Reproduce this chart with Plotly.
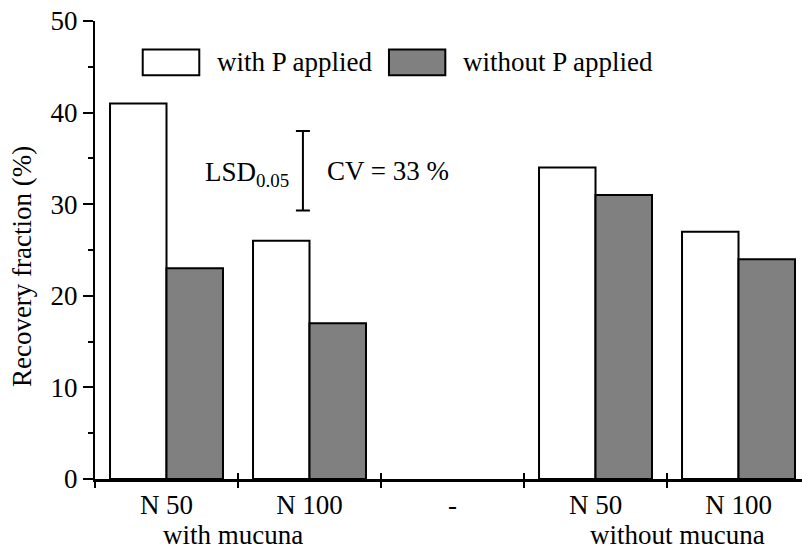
import plotly.graph_objects as go

# ---- data ----
categories = ["N 50", "N 100", "-", "N 50", "N 100"]
groups = ["with mucuna", "without mucuna"]
with_p = [41, 26, None, 34, 27]
without_p = [23, 17, None, 31, 24]
series_names = ["with P applied", "without P applied"]
lsd_low, lsd_high = 29.3, 38.0
lsd_label = "LSD<sub>0.05</sub>"
cv_label = "CV = 33 %"
y_ticks = [0, 10, 20, 30, 40, 50]

FONT = "Times New Roman, Times, DejaVu Serif, serif"
FS = 27
GRAY = "#808080"

xs = list(range(len(categories)))
boundaries = [i - 0.5 for i in range(len(categories) + 1)]

fig = go.Figure()
fig.add_trace(go.Bar(x=xs, y=with_p, name=series_names[0],
                     marker=dict(color="white", line=dict(color="black", width=2)),
                     showlegend=False))
fig.add_trace(go.Bar(x=xs, y=without_p, name=series_names[1],
                     marker=dict(color=GRAY, line=dict(color="black", width=2)),
                     showlegend=False))

# LSD bar
lsd_mid = (lsd_low + lsd_high) / 2
fig.add_trace(go.Scatter(x=[0.954], y=[lsd_mid], mode="markers",
                         marker=dict(size=1, color="rgba(0,0,0,0)"),
                         error_y=dict(type="data", array=[lsd_high - lsd_mid],
                                      color="black", thickness=2, width=7),
                         showlegend=False, hoverinfo="skip"))

fig.update_layout(
    width=802, height=552,
    margin=dict(l=95, r=0, t=21, b=73),
    paper_bgcolor="white", plot_bgcolor="white",
    barmode="group", bargap=0.21, bargroupgap=0,
    font=dict(family=FONT, size=FS, color="black"),
    xaxis=dict(range=[-0.5, 4.444], tickvals=xs, ticktext=categories,
               ticks="", showline=True, linecolor="black", linewidth=3,
               showgrid=False, zeroline=False,
               tickfont=dict(family=FONT, size=FS),
               minor=dict(tickvals=boundaries, ticks="outside", ticklen=6,
                          tickwidth=2, tickcolor="black", showgrid=False)),
    xaxis2=dict(range=[-0.5, 4.444], overlaying="x", anchor="y", side="bottom",
                tickvals=boundaries, ticks="inside", ticklen=6, tickwidth=2,
                tickcolor="black", showticklabels=False, showline=False,
                showgrid=False, zeroline=False),
    yaxis=dict(range=[0, 50], tickvals=y_ticks, ticks="outside", ticklen=10,
               tickwidth=2, tickcolor="black", showline=True, linecolor="black",
               linewidth=2, showgrid=False, zeroline=False,
               tickfont=dict(family=FONT, size=FS),
               minor=dict(dtick=5, tick0=5, ticks="outside", ticklen=5,
                          tickwidth=2, tickcolor="black", showgrid=False)),
)

# dummy trace so xaxis2 is drawn
fig.add_trace(go.Scatter(x=[0], y=[0], xaxis="x2", mode="markers",
                         marker=dict(size=1, color="rgba(0,0,0,0)"),
                         showlegend=False, hoverinfo="skip"))

# y-axis title
fig.add_annotation(text="Recovery fraction (%)", xref="paper", yref="paper",
                   x=-0.1033, y=0.4648, textangle=-90, showarrow=False,
                   xanchor="center", yanchor="middle", font=dict(family=FONT, size=FS))

# group labels (placed at the bottom edge of the figure)
for gx, gname in zip([0.465, 3.573], groups):
    fig.add_annotation(text=gname, xref="x", yref="paper", x=gx, y=-73 / 458,
                       showarrow=False, xanchor="center", yanchor="bottom",
                       font=dict(family=FONT, size=FS))

# LSD / CV labels
fig.add_annotation(text=lsd_label, xref="x", yref="y", x=0.872, y=33.3,
                   showarrow=False, xanchor="right", yanchor="middle",
                   font=dict(family=FONT, size=FS))
fig.add_annotation(text=cv_label, xref="x", yref="y", x=1.108, y=33.6,
                   showarrow=False, xanchor="left", yanchor="middle",
                   font=dict(family=FONT, size=FS))

# legend drawn manually
legend_items = [(0.0675, 0.1475, "white", series_names[0]),
                (0.4158, 0.4955, GRAY, series_names[1])]
for x0, x1, col, name in legend_items:
    fig.add_shape(type="rect", xref="paper", yref="paper",
                  x0=x0, x1=x1, y0=0.8815, y1=0.938,
                  fillcolor=col, line=dict(color="black", width=2))
    fig.add_annotation(text=name, xref="paper", yref="paper",
                       x=x1 + 0.022, y=0.91, showarrow=False,
                       xanchor="left", yanchor="middle",
                       font=dict(family=FONT, size=FS))

fig.write_html("out.html")
